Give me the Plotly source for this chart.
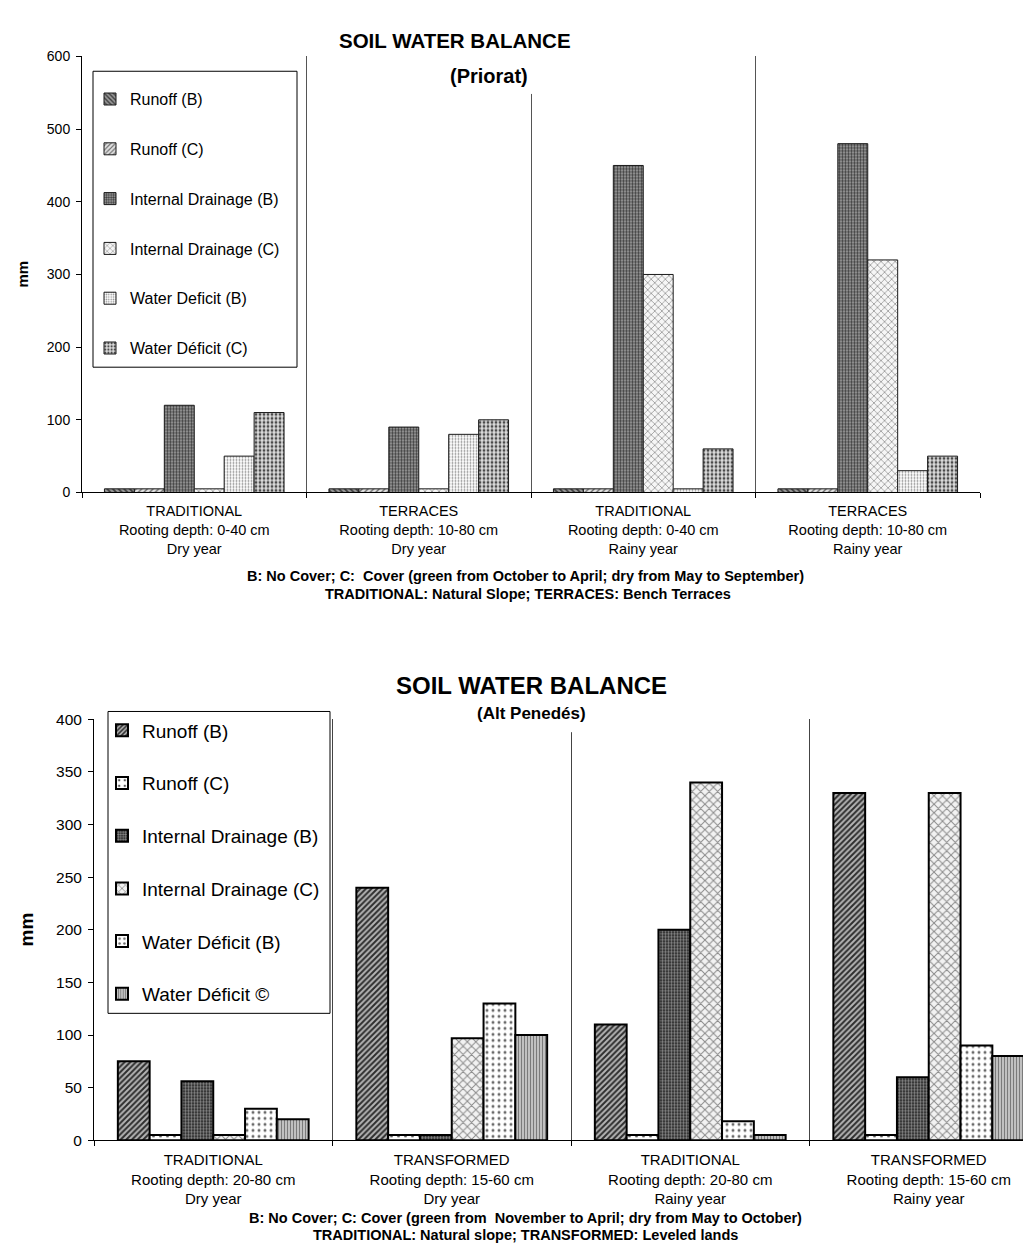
import plotly.graph_objects as go

# ---------------- DATA ----------------
series_names_top = ["Runoff (B)", "Runoff (C)", "Internal Drainage (B)",
                    "Internal Drainage (C)", "Water Deficit (B)", "Water Déficit (C)"]
top_categories = ["TRADITIONAL<br>Rooting depth: 0-40 cm<br>Dry year",
                  "TERRACES<br>Rooting depth: 10-80 cm<br>Dry year",
                  "TRADITIONAL<br>Rooting depth: 0-40 cm<br>Rainy year",
                  "TERRACES<br>Rooting depth: 10-80 cm<br>Rainy year"]
top_runoff_b = [5, 5, 5, 5]
top_runoff_c = [5, 5, 5, 5]
top_drainage_b = [120, 90, 450, 480]
top_drainage_c = [5, 5, 300, 320]
top_deficit_b = [50, 80, 5, 30]
top_deficit_c = [110, 100, 60, 50]

series_names_bot = ["Runoff (B)", "Runoff (C)", "Internal Drainage (B)",
                    "Internal Drainage (C)", "Water Déficit (B)", "Water Déficit ©"]
bot_categories = ["TRADITIONAL<br>Rooting depth: 20-80 cm<br>Dry year",
                  "TRANSFORMED<br>Rooting depth: 15-60 cm<br>Dry year",
                  "TRADITIONAL<br>Rooting depth: 20-80 cm<br>Rainy year",
                  "TRANSFORMED<br>Rooting depth: 15-60 cm<br>Rainy year"]
bot_runoff_b = [75, 240, 110, 330]
bot_runoff_c = [5, 5, 5, 5]
bot_drainage_b = [56, 5, 200, 60]
bot_drainage_c = [5, 97, 340, 330]
bot_deficit_b = [30, 130, 18, 90]
bot_deficit_c = [20, 100, 5, 80]

top_series = [top_runoff_b, top_runoff_c, top_drainage_b,
              top_drainage_c, top_deficit_b, top_deficit_c]
bot_series = [bot_runoff_b, bot_runoff_c, bot_drainage_b,
              bot_drainage_c, bot_deficit_b, bot_deficit_c]

# ---------------- STYLES ----------------
top_styles = [
    dict(shape="\\", fg="#3c3c3c", bg="#9a9a9a", size=4, sol=0.45),
    dict(shape="/", fg="#6a6a6a", bg="#e2e2e2", size=4, sol=0.35),
    dict(shape=".", fg="#3a3a3a", bg="#a8a8a8", size=3, sol=0.5),
    dict(shape="x", fg="#9a9a9a", bg="#f6f6f6", size=5, sol=0.3),
    dict(shape=".", fg="#8c8c8c", bg="#ffffff", size=3, sol=0.3),
    dict(shape=".", fg="#4a4a4a", bg="#dcdcdc", size=4, sol=0.4),
]
bot_styles = [
    dict(shape="/", fg="#2e2e2e", bg="#b4b4b4", size=4, sol=0.5),
    dict(shape=".", fg="#5a5a5a", bg="#ffffff", size=7, sol=0.15),
    dict(shape=".", fg="#8a8a8a", bg="#1e1e1e", size=3, sol=0.5),
    dict(shape="x", fg="#8a8a8a", bg="#f2f2f2", size=6, sol=0.3),
    dict(shape=".", fg="#6a6a6a", bg="#ffffff", size=6, sol=0.2),
    dict(shape="|", fg="#7a7a7a", bg="#c8c8c8", size=3, sol=0.4),
]

W, H = 1031, 1256
FONT = "Liberation Sans, Arial, sans-serif"


def px(x):
    return x / W


def py(y):
    return 1 - y / H


fig = go.Figure()

for i, (name, vals, st) in enumerate(zip(series_names_top, top_series, top_styles)):
    fig.add_trace(go.Bar(
        x=top_categories, y=vals, name=name,
        xaxis="x", yaxis="y", legend="legend", legendgroup=f"t{i}",
        marker=dict(color=st["bg"], line=dict(color="#1a1a1a", width=1),
                    pattern=dict(shape=st["shape"], fgcolor=st["fg"], bgcolor=st["bg"],
                                 size=st["size"], solidity=st["sol"], fillmode="replace")),
        hoverinfo="x+y+name",
    ))

for i, (name, vals, st) in enumerate(zip(series_names_bot, bot_series, bot_styles)):
    fig.add_trace(go.Bar(
        x=bot_categories, y=vals, name=name,
        xaxis="x2", yaxis="y2", legend="legend2", legendgroup=f"b{i}",
        marker=dict(color=st["bg"], line=dict(color="#000000", width=2),
                    pattern=dict(shape=st["shape"], fgcolor=st["fg"], bgcolor=st["bg"],
                                 size=st["size"], solidity=st["sol"], fillmode="replace")),
        hoverinfo="x+y+name",
    ))

# bottom chart is cut at the right edge of the page
bot_left, bot_cat_px = 86, 238.5
bot_right_range = -0.5 + (W - bot_left) / bot_cat_px

axis_common = dict(showline=True, linecolor="#000000", linewidth=1,
                   ticks="outside", ticklen=5, tickcolor="#000000",
                   zeroline=False, fixedrange=True)

fig.update_layout(
    width=W, height=H,
    margin=dict(l=0, r=0, t=0, b=0),
    paper_bgcolor="white", plot_bgcolor="white",
    font=dict(family=FONT, color="#000000"),
    barmode="group", bargap=0.2, bargroupgap=0,
    xaxis=dict(domain=[px(74), px(972)], anchor="y", type="category",
               range=[-0.5, 3.5], tickson="boundaries",
               showgrid=True, gridcolor="#555555", gridwidth=1,
               tickfont=dict(size=14.5), ticklabelstandoff=5, **axis_common),
    yaxis=dict(domain=[py(482), py(40)], anchor="x", range=[0, 600], dtick=100,
               showgrid=False, tickfont=dict(size=14), ticklabelstandoff=3, **axis_common),
    xaxis2=dict(domain=[px(bot_left), 1], anchor="y2", type="category",
                range=[-0.5, bot_right_range], tickson="boundaries",
                showgrid=True, gridcolor="#444444", gridwidth=1,
                tickfont=dict(size=15), ticklabelstandoff=6, **axis_common),
    yaxis2=dict(domain=[py(1138.7), py(712)], anchor="x2", range=[0, 400], dtick=50,
                showgrid=False, tickfont=dict(size=15.5), ticklabelstandoff=3, **axis_common),
    legend=dict(x=px(82), y=py(66), xanchor="left", yanchor="top",
                bgcolor="rgba(0,0,0,0)", borderwidth=0,
                font=dict(size=16, family=FONT), tracegroupgap=26,
                traceorder="grouped"),
    legend2=dict(x=px(94), y=py(704), xanchor="left", yanchor="top",
                 bgcolor="rgba(0,0,0,0)", borderwidth=0,
                 font=dict(size=19, family=FONT), tracegroupgap=25,
                 traceorder="grouped"),
    showlegend=True,
)

# legend frames and title masks
fig.add_shape(type="rect", xref="paper", yref="paper",
              x0=px(85), x1=px(289), y0=py(355), y1=py(55),
              line=dict(color="#000000", width=1), fillcolor="white", layer="above")
fig.add_shape(type="rect", xref="paper", yref="paper",
              x0=px(100), x1=px(322), y0=py(1010), y1=py(704),
              line=dict(color="#000000", width=1), fillcolor="white", layer="above")
fig.add_shape(type="rect", xref="paper", yref="paper",
              x0=px(516), x1=px(530), y0=py(78), y1=py(36),
              line=dict(width=0), fillcolor="white", layer="above")
fig.add_shape(type="rect", xref="paper", yref="paper",
              x0=px(557), x1=px(571), y0=py(725), y1=py(708),
              line=dict(width=0), fillcolor="white", layer="above")

def ann(text, x, y, size, bold=True, angle=0):
    fig.add_annotation(text=f"<b>{text}</b>" if bold else text,
                       x=px(x), y=py(y), xref="paper", yref="paper",
                       xanchor="center", yanchor="middle", showarrow=False,
                       textangle=angle, font=dict(size=size, family=FONT, color="#000000"))

ann("SOIL WATER BALANCE", 447, 24, 20.5)
ann("(Priorat)", 481, 60, 20)
ann("mm", 14, 261, 15, angle=-90)
ann("B: No Cover; C:  Cover (green from October to April; dry from May to September)", 517, 567, 14.5)
ann("TRADITIONAL: Natural Slope; TERRACES: Bench Terraces", 520, 585, 14.5)

ann("SOIL WATER BALANCE", 523, 678, 24)
ann("(Alt Penedés)", 523, 706, 17)
ann("mm", 18, 925, 19, angle=-90)
ann("B: No Cover; C: Cover (green from  November to April; dry from May to October)", 517, 1217, 14.5)
ann("TRADITIONAL: Natural slope; TRANSFORMED: Leveled lands", 517, 1235, 14.5)

fig.write_html("out.html")
